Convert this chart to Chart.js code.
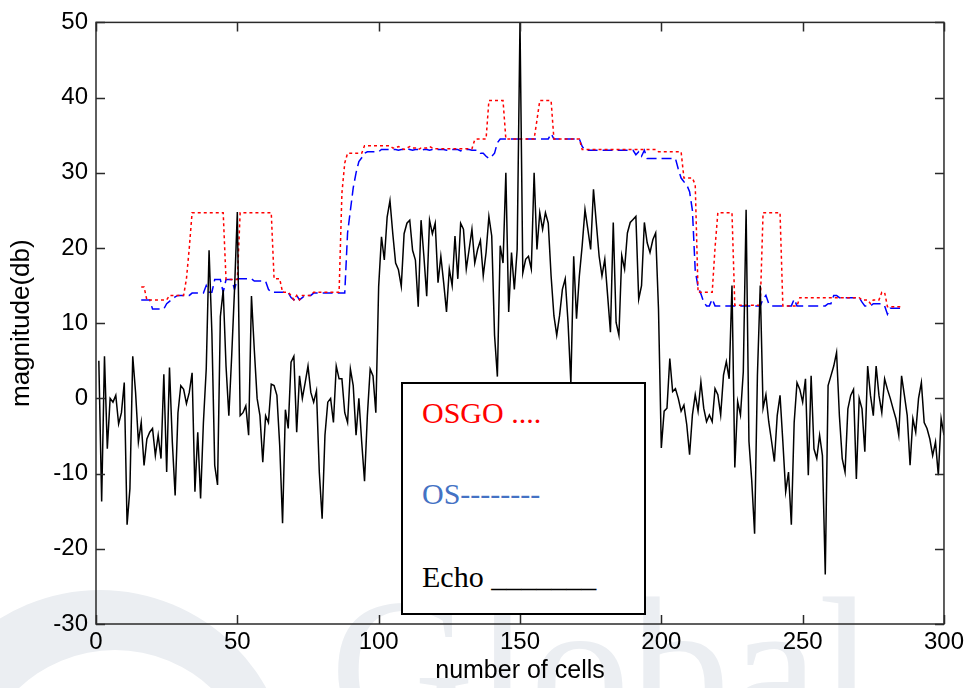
<!DOCTYPE html>
<html>
<head>
<meta charset="utf-8">
<script src="https://cdn.jsdelivr.net/npm/chart.js@4/dist/chart.umd.min.js"></script>
<style>
  html, body { margin:0; padding:0; background:#fff; overflow:hidden; }
  #wrap { position:relative; width:968px; height:688px; overflow:hidden; background:#fff; }
  #c { position:absolute; left:0; top:0; z-index:1; }
  .wm { position:absolute; z-index:0; }
  #wmDisc { left:-90px; top:590px; width:380px; height:380px; border-radius:50%; background:#ebeef2; }
  #wmInner { left:-25px; top:650px; width:280px; height:280px; border-radius:50%; background:#fff; }
  #wmText { left:330px; top:568px; font-family:'Liberation Serif', serif; font-size:200px; line-height:200px; color:#ebeef2; white-space:pre; }
  #legend { position:absolute; z-index:2; left:401px; top:382px; width:241px; height:229px; border:2px solid #000; background:#fff; }
  #legend div { position:absolute; left:19px; font-family:'Liberation Serif', serif; font-size:30px; line-height:30px; white-space:pre; }
</style>
</head>
<body>
<div id="wrap">
  <div class="wm" id="wmDisc"></div>
  <div class="wm" id="wmInner"></div>
  <div class="wm" id="wmText">Global</div>
  <canvas id="c" width="968" height="688"></canvas>
  <div id="legend">
    <div style="top:14px;color:#ff0000">OSGO ....</div>
    <div style="top:95px;color:#4472c4">OS--------</div>
    <div style="top:178px;color:#000">Echo _______</div>
  </div>
</div>
<script>
// ---- data ----
const xTicks = [0, 50, 100, 150, 200, 250, 300];
const yTicks = [-30, -20, -10, 0, 10, 20, 30, 40, 50];

const echoStart = 1;   // echo samples at cells 1..300
const echo = [
  5.0, -13.7, 5.6, -6.7, 0.0, -0.5, 0.4, -3.4, -1.9, 2.1,
  -16.8, -12.0, 5.6, 0.8, -5.8, -3.2, -8.9, -5.4, -4.5, -4.0,
  -7.6, -4.9, -8.0, 3.2, -9.8, 4.1, -5.8, -12.9, -1.9, 1.7,
  1.2, -0.7, 0.8, 3.4, -12.4, -4.5, -13.3, -3.2, 3.9, 19.7,
  8.7, -8.9, -11.5, 10.9, 14.4, 4.3, -2.3, 5.6, 14.4, 24.8,
  -2.3, -1.9, -1.0, -4.9, 13.6, 6.5, 0.0, -2.3, -8.5, -2.3,
  -3.2, 1.9, 1.7, 0.4, -6.3, -16.6, -1.5, -4.0, 4.8, 5.6,
  -4.5, 3.0, 0.0, 2.1, 4.3, 0.8, -0.5, 1.0, -9.8, -16.0,
  -4.9, -0.5, 0.0, -3.2, 4.3, 2.6, 2.6, -1.9, -3.2, 3.9,
  1.7, -4.9, 0.0, -5.8, -11.0, -2.3, 3.9, 3.0, -1.9, 14.9,
  21.5, 18.4, 24.1, 26.3, 21.9, 18.0, 17.1, 14.9, 21.9, 23.3,
  23.7, 19.7, 18.4, 12.2, 23.7, 18.9, 13.6, 23.7, 21.9, 23.3,
  15.4, 18.9, 15.4, 11.5, 17.2, 15.0, 21.6, 15.9, 23.3, 22.5,
  17.2, 19.8, 22.5, 18.0, 19.8, 21.0, 16.3, 19.4, 24.2, 21.6,
  8.4, 2.9, 20.3, 18.0, 30.0, 11.5, 19.4, 14.5, 19.8, 50.0,
  16.7, 18.5, 18.9, 17.2, 30.0, 19.8, 24.7, 22.5, 24.7, 23.3,
  16.3, 11.0, 8.4, 11.0, 14.5, 15.9, 10.1, 2.0, 18.9, 10.6,
  16.3, 20.3, 25.1, 22.5, 19.8, 27.8, 23.3, 18.9, 16.3, 18.5,
  13.7, 8.8, 23.4, 10.1, 8.4, 19.0, 17.2, 22.0, 23.4, 23.8,
  24.2, 13.2, 15.0, 23.4, 20.7, 19.4, 21.1, 22.0, 11.9, -6.6,
  -1.7, -1.3, 5.3, 0.9, 1.3, 0.0, -1.7, -0.9, -3.5, -7.5,
  -2.2, 0.5, -1.7, 2.2, -1.3, -3.1, -2.2, -3.1, 1.3, 0.5,
  -2.2, 3.1, 4.9, 2.6, 15.0, -9.2, -0.4, -2.2, 3.5, 25.1,
  -5.7, -11.0, -18.0, 3.1, 15.0, -1.3, 0.5, -3.1, -5.7, -8.4,
  -2.3, 0.4, -5.8, -12.4, -9.8, -16.8, -3.2, 2.1, 1.2, -0.5,
  2.6, -10.2, 3.0, -6.7, -8.0, -4.9, -7.6, -23.4, 1.7, 3.0,
  4.3, 6.1, -2.3, -8.0, -9.8, -1.4, 0.4, 1.2, -10.7, 0.0,
  -1.4, -7.1, 4.3, 0.4, -2.3, 4.3, 0.4, -1.9, 2.6, 1.2,
  0.0, -1.4, -2.7, -4.9, 3.0, 0.4, -2.3, -8.9, -2.7, -4.5,
  0.0, 2.1, -3.2, -4.0, -5.4, -7.6, -5.8, -10.2, -2.7, -4.9
];

const threshStart = 16;  // OSGO / OS thresholds at cells 16..285
const osgo = [
  14.8, 14.8, 13.1, 13.1, 13.1, 13.1, 13.1, 13.1, 13.1, 13.1,
  13.7, 13.7, 13.7, 13.7, 13.7, 13.7, 15.9, 20.0, 24.7, 24.7,
  24.7, 24.7, 24.7, 24.7, 24.7, 24.7, 24.7, 24.7, 24.7, 24.7,
  15.8, 15.8, 15.8, 15.8, 15.8, 24.7, 24.7, 24.7, 24.7, 24.7,
  24.7, 24.7, 24.7, 24.7, 24.7, 24.7, 24.7, 15.9, 15.9, 15.9,
  14.1, 14.1, 14.1, 13.7, 13.1, 13.7, 13.1, 13.7, 13.7, 13.7,
  13.7, 14.1, 14.1, 14.1, 14.1, 14.1, 14.1, 14.1, 14.1, 14.1,
  14.1, 27.3, 31.3, 32.6, 32.6, 32.6, 32.6, 32.6, 32.6, 33.6,
  33.6, 33.6, 33.6, 33.6, 33.6, 33.6, 33.6, 33.6, 33.6, 33.3,
  33.3, 33.5, 33.3, 33.1, 33.3, 33.5, 33.3, 33.3, 33.1, 33.3,
  33.3, 33.3, 33.5, 33.3, 33.2, 33.2, 33.2, 33.2, 33.2, 33.2,
  33.2, 33.2, 33.2, 33.2, 33.2, 33.2, 33.2, 33.2, 34.4, 34.5,
  34.5, 34.5, 34.5, 39.6, 39.6, 39.6, 39.6, 39.6, 39.6, 34.5,
  34.5, 34.5, 34.5, 34.5, 34.5, 34.5, 34.5, 34.5, 34.5, 34.5,
  37.0, 39.6, 39.6, 39.6, 39.6, 39.6, 34.5, 34.5, 34.5, 34.5,
  34.5, 34.5, 34.5, 34.5, 34.5, 34.5, 33.1, 33.1, 33.1, 33.1,
  33.1, 33.1, 33.1, 33.1, 33.1, 33.1, 33.1, 33.1, 33.1, 33.1,
  33.1, 33.1, 33.1, 33.1, 33.1, 33.1, 33.1, 33.1, 33.1, 33.1,
  33.1, 33.1, 33.1, 32.8, 32.8, 32.8, 32.8, 32.8, 32.8, 32.8,
  32.8, 32.8, 29.3, 29.3, 29.3, 29.3, 28.4, 14.1, 14.1, 14.1,
  14.1, 14.1, 14.1, 20.0, 24.7, 24.7, 24.7, 24.7, 24.7, 24.7,
  12.4, 12.4, 12.4, 12.4, 12.4, 12.4, 12.4, 12.4, 12.4, 12.4,
  24.7, 24.7, 24.7, 24.7, 24.7, 24.7, 24.7, 12.3, 12.3, 12.3,
  12.3, 12.3, 12.3, 13.4, 13.4, 13.4, 13.4, 13.4, 13.4, 13.4,
  13.4, 13.4, 13.4, 13.4, 13.4, 13.4, 13.4, 13.4, 13.4, 13.4,
  13.4, 13.4, 13.4, 13.4, 13.4, 13.1, 13.1, 13.1, 12.6, 13.1,
  13.1, 13.1, 14.1, 14.1, 12.2, 12.2, 12.2, 12.2, 12.2, 12.2
];

const os = [
  13.1, 13.1, 13.1, 13.1, 11.9, 11.9, 11.9, 11.9, 11.9, 12.6,
  12.9, 13.2, 13.5, 13.7, 13.7, 13.7, 13.7, 13.7, 14.0, 14.0,
  14.0, 14.0, 14.0, 15.0, 14.1, 14.1, 15.8, 15.8, 15.8, 14.1,
  15.8, 15.8, 15.8, 14.5, 15.9, 15.9, 15.9, 15.9, 15.9, 15.9,
  15.6, 15.6, 15.6, 15.6, 15.6, 14.5, 14.1, 14.1, 14.1, 14.1,
  14.1, 14.1, 14.1, 13.4, 13.1, 13.7, 13.1, 13.4, 13.7, 13.7,
  13.7, 14.0, 14.0, 14.0, 14.0, 14.0, 14.0, 14.0, 14.0, 14.0,
  14.0, 14.0, 14.0, 22.0, 25.0, 28.0, 30.0, 31.5, 32.0, 32.6,
  32.8, 32.8, 32.8, 32.8, 32.8, 33.1, 33.1, 33.1, 33.1, 33.1,
  33.1, 33.0, 33.1, 33.1, 33.2, 33.1, 33.0, 33.1, 33.1, 33.0,
  33.1, 33.1, 33.0, 33.1, 33.0, 33.1, 33.1, 33.1, 33.0, 33.1,
  33.1, 33.1, 33.1, 32.9, 33.1, 33.1, 33.1, 33.0, 33.0, 33.0,
  32.6, 32.6, 32.2, 31.9, 32.2, 32.6, 34.0, 34.5, 34.5, 34.5,
  34.5, 34.5, 34.5, 34.5, 34.5, 34.5, 34.5, 34.5, 34.5, 34.5,
  34.5, 34.5, 34.5, 34.5, 34.5, 35.2, 34.5, 34.5, 34.5, 34.5,
  34.5, 34.5, 34.5, 34.5, 34.5, 34.5, 33.5, 33.0, 33.0, 33.0,
  33.0, 33.0, 33.0, 33.0, 33.0, 33.0, 33.0, 33.0, 33.0, 33.0,
  33.0, 33.0, 33.0, 33.0, 33.0, 32.4, 32.8, 32.2, 33.0, 31.9,
  31.9, 31.9, 31.9, 31.9, 31.9, 31.9, 31.9, 31.9, 31.9, 31.9,
  30.5, 29.3, 28.8, 28.4, 27.5, 25.0, 17.0, 14.8, 13.9, 12.8,
  12.3, 12.3, 13.2, 12.3, 12.3, 12.3, 12.3, 12.3, 12.3, 12.3,
  12.3, 12.3, 12.3, 12.3, 12.3, 12.3, 12.3, 12.3, 12.3, 12.3,
  13.2, 13.7, 12.6, 12.3, 12.3, 12.3, 12.3, 12.3, 12.3, 12.3,
  12.3, 13.2, 12.3, 12.3, 12.3, 12.3, 12.3, 12.3, 12.3, 12.3,
  12.3, 12.3, 12.3, 12.6, 12.6, 13.7, 13.7, 13.4, 13.4, 13.4,
  13.4, 13.4, 13.4, 13.4, 13.4, 12.8, 12.3, 12.3, 12.3, 12.6,
  12.6, 12.6, 12.6, 12.3, 11.2, 12.0, 12.0, 12.0, 12.0, 12.0
];

// ---- build points ----
const toPts = (arr, start) => arr.map((v, i) => ({ x: start + i, y: v }));

const sansFont = "'Liberation Sans', Arial, sans-serif";

// inward ticks + box frame drawn from the chart's own scales
const framePlugin = {
  id: 'frame',
  afterDatasetsDraw(chart) {
    const { ctx, chartArea: a, scales: { x, y } } = chart;
    ctx.save();
    ctx.strokeStyle = '#2a2a2a';
    ctx.lineWidth = 1.5;
    const tl = 9;
    ctx.beginPath();
    xTicks.forEach(v => {
      const px = Math.round(x.getPixelForValue(v)) + 0.5;
      ctx.moveTo(px, a.bottom); ctx.lineTo(px, a.bottom - tl);
      ctx.moveTo(px, a.top); ctx.lineTo(px, a.top + tl);
    });
    yTicks.forEach(v => {
      const py = Math.round(y.getPixelForValue(v)) + 0.5;
      ctx.moveTo(a.left, py); ctx.lineTo(a.left + tl, py);
      ctx.moveTo(a.right, py); ctx.lineTo(a.right - tl, py);
    });
    ctx.stroke();
    ctx.strokeRect(a.left, a.top, a.right - a.left, a.bottom - a.top);
    ctx.restore();
  }
};

new Chart(document.getElementById('c'), {
  type: 'line',
  data: {
    datasets: [
      { label: 'Echo', data: toPts(echo, echoStart), borderColor: '#000000', borderWidth: 1.5,
        pointRadius: 0, tension: 0, fill: false, order: 0 },
      { label: 'OSGO', data: toPts(osgo, threshStart), borderColor: '#ff0000', borderWidth: 1.5,
        borderDash: [3, 3], pointRadius: 0, tension: 0, fill: false, order: 1 },
      { label: 'OS', data: toPts(os, threshStart), borderColor: '#0000ff', borderWidth: 1.5,
        borderDash: [10, 5], pointRadius: 0, tension: 0, fill: false, order: 2 }
    ]
  },
  options: {
    responsive: false,
    animation: false,
    events: [],
    layout: { padding: { left: 0, right: 24, top: 18, bottom: 0 } },
    plugins: { legend: { display: false }, tooltip: { enabled: false } },
    scales: {
      x: {
        type: 'linear', min: 0, max: 300,
        afterBuildTicks: s => { s.ticks = xTicks.map(v => ({ value: v })); },
        afterFit: s => { s.height = 64; },
        ticks: { color: '#000', padding: 4, maxRotation: 0, font: { family: sansFont, size: 24 } },
        grid: { display: false, drawTicks: false },
        border: { display: false },
        title: { display: true, text: 'number of cells', color: '#000',
                 font: { family: sansFont, size: 25 }, padding: { top: 0, bottom: 2 } }
      },
      y: {
        type: 'linear', min: -30, max: 50,
        afterBuildTicks: s => { s.ticks = yTicks.map(v => ({ value: v })); },
        afterFit: s => { s.width = 96; },
        ticks: { color: '#000', padding: 8, font: { family: sansFont, size: 24 } },
        grid: { display: false, drawTicks: false },
        border: { display: false },
        title: { display: true, text: 'magnitude(db)', color: '#000',
                 font: { family: sansFont, size: 26 }, padding: { top: 6, bottom: 0 } }
      }
    }
  },
  plugins: [framePlugin]
});
</script>
</body>
</html>
